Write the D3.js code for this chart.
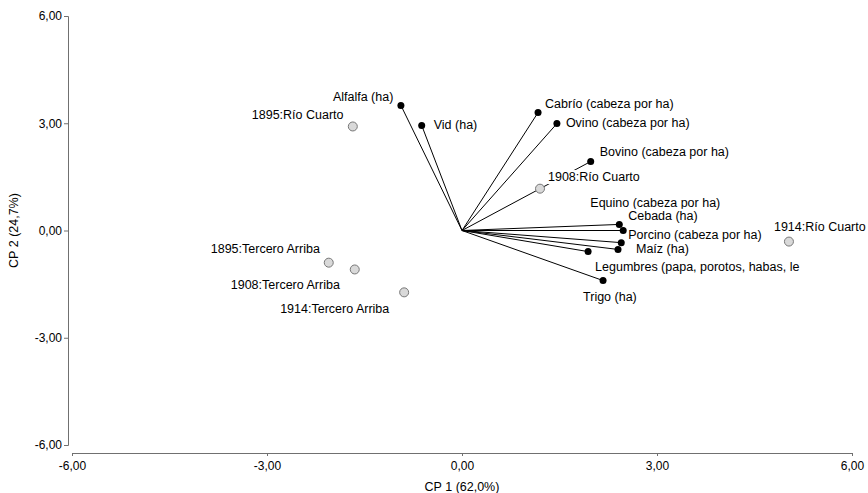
<!DOCTYPE html>
<html>
<head>
<meta charset="utf-8">
<script src="https://cdn.jsdelivr.net/npm/d3@7"></script>
<style>
  body { margin: 0; background: #fff; }
  text { font-family: "Liberation Sans", Arial, sans-serif; }
</style>
</head>
<body>
<div id="chart"></div>
<script>
const varNames = ["Alfalfa (ha)", "Vid (ha)", "Cabrío (cabeza por ha)", "Ovino (cabeza por ha)",
  "Bovino (cabeza por ha)", "Equino (cabeza por ha)", "Cebada (ha)", "Porcino (cabeza por ha)",
  "Maíz (ha)", "Legumbres (papa, porotos, habas, le", "Trigo (ha)"];
const varCP1 = [-0.94, -0.62, 1.17, 1.46, 1.98, 2.42, 2.48, 2.45, 2.40, 1.94, 2.17];
const varCP2 = [3.50, 2.94, 3.30, 2.99, 1.93, 0.17, 0.00, -0.34, -0.53, -0.59, -1.40];

const obsNames = ["1895:Río Cuarto", "1908:Río Cuarto", "1914:Río Cuarto",
  "1895:Tercero Arriba", "1908:Tercero Arriba", "1914:Tercero Arriba"];
const obsCP1 = [-1.68, 1.20, 5.03, -2.05, -1.65, -0.89];
const obsCP2 = [2.91, 1.17, -0.31, -0.90, -1.09, -1.73];

const ticks = [-6, -3, 0, 3, 6];

// label offsets in px (left edge, middle) from each point
const varLabelOff = [[-68, -9], [12, -1], [7, -9], [9, -1], [9, -10], [-29, -22],
  [5, -15], [7, -8], [18, -1], [7, 15], [-20, 16]];
const obsLabelOff = [[-101, -12], [8, -12], [-15, -15], [-118, -14], [-124, 15], [-124, 16]];

// SETUP
const W = 868, H = 493;
const svg = d3.select("#chart").append("svg")
  .attr("width", W).attr("height", H);

const x = d3.scaleLinear().domain([-6, 6]).range([72, 852]);
const y = d3.scaleLinear().domain([-6, 6]).range([445, 16]);
// comma decimals, plain hyphen for negatives
const fmt = d => d3.format(".2f")(d).replace(".", ",").replace("\u2212", "-");

// AXES (detached, InfoStat style)
const xAxis = svg.append("g")
  .attr("transform", "translate(0,453)")
  .call(d3.axisBottom(x).tickValues(ticks).tickFormat(fmt).tickSizeOuter(0).tickSize(3).tickPadding(5));
const yAxis = svg.append("g")
  .attr("transform", "translate(68,0)")
  .call(d3.axisLeft(y).tickValues(ticks).tickFormat(fmt).tickSizeOuter(0).tickSize(4).tickPadding(2));
[xAxis, yAxis].forEach(a => {
  a.select(".domain").attr("stroke", "#707070");
  a.selectAll(".tick line").attr("stroke", "#707070");
  a.selectAll(".tick text").attr("fill", "#000").style("font-size", "12px")
    .style("font-family", "'Liberation Sans', Arial, sans-serif");
});

svg.append("text")
  .attr("x", x(0)).attr("y", 491)
  .attr("text-anchor", "middle").style("font-size", "12.5px")
  .text("CP 1 (62,0%)");
svg.append("text")
  .attr("transform", `translate(18,${y(0)}) rotate(-90)`)
  .attr("text-anchor", "middle").style("font-size", "12.5px")
  .text("CP 2 (24,7%)");

// VECTORS
const vars = varNames.map((n, i) => ({ name: n, a: varCP1[i], b: varCP2[i], off: varLabelOff[i] }));
const obs = obsNames.map((n, i) => ({ name: n, a: obsCP1[i], b: obsCP2[i], off: obsLabelOff[i] }));

svg.append("g").selectAll("line").data(vars).join("line")
  .attr("x1", x(0)).attr("y1", y(0))
  .attr("x2", d => x(d.a)).attr("y2", d => y(d.b))
  .attr("stroke", "#000").attr("stroke-width", 1);

// LABELS (white background so lines break behind them)
const labels = svg.append("g").selectAll("g").data(obs.concat(vars)).join("g")
  .attr("transform", d => `translate(${x(d.a) + d.off[0]},${y(d.b) + d.off[1]})`);
labels.append("rect").attr("class", "bg").attr("fill", "#fff");
labels.append("text")
  .attr("dy", "0.35em")
  .style("font-size", "12.5px")
  .text(d => d.name);
labels.each(function() {
  const g = d3.select(this);
  const bb = g.select("text").node().getBBox();
  g.select("rect").attr("x", bb.x - 1).attr("y", bb.y).attr("width", bb.width + 2).attr("height", bb.height);
});

// POINTS
svg.append("g").selectAll("circle").data(vars).join("circle")
  .attr("cx", d => x(d.a)).attr("cy", d => y(d.b)).attr("r", 3.5)
  .attr("fill", "#000");
svg.append("g").selectAll("circle").data(obs).join("circle")
  .attr("cx", d => x(d.a)).attr("cy", d => y(d.b)).attr("r", 4.5)
  .attr("fill", "#d9d9d9").attr("stroke", "#777").attr("stroke-width", 1);
</script>
</body>
</html>
